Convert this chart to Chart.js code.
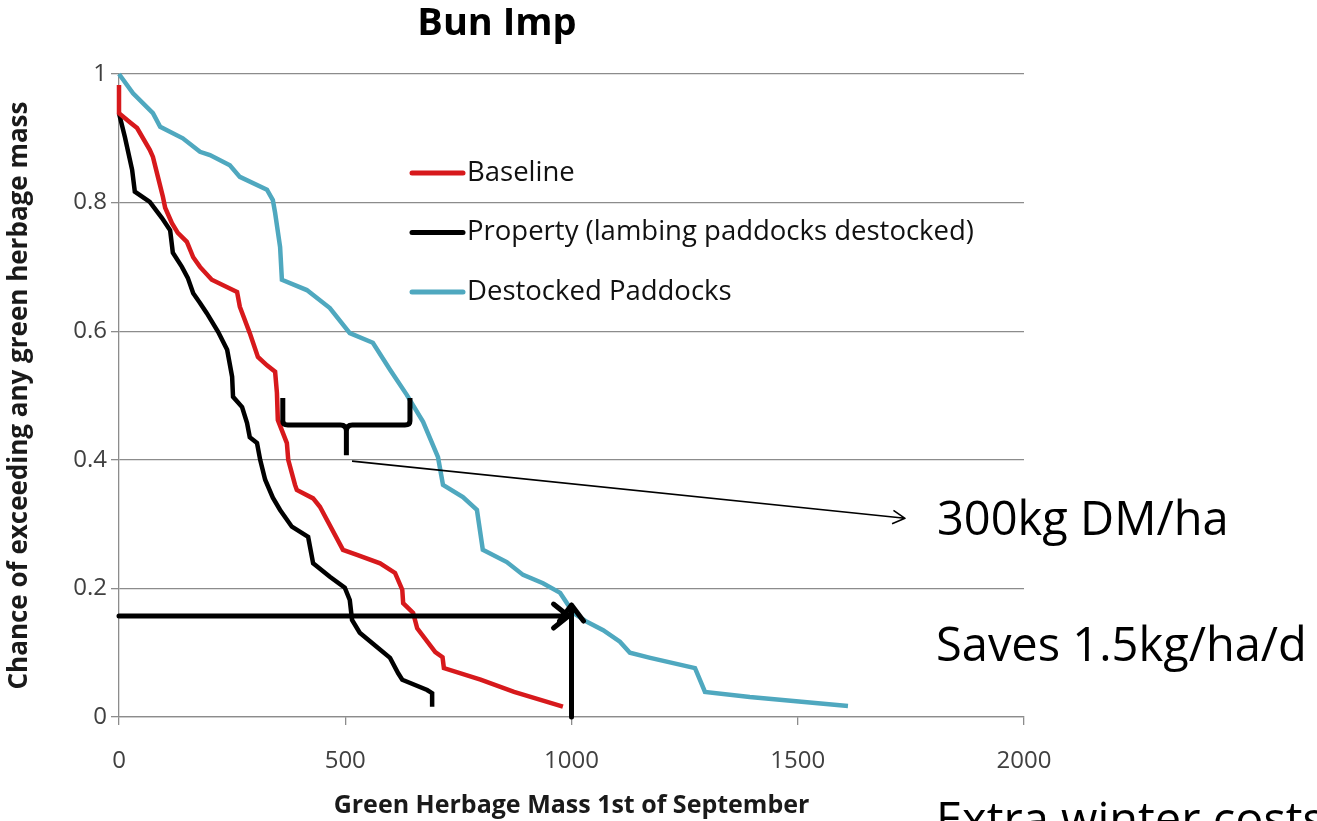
<!DOCTYPE html>
<html>
<head>
<meta charset="utf-8">
<script src="https://cdn.jsdelivr.net/npm/chart.js@4"></script>
<style>
  html, body { margin: 0; padding: 0; background: #fff; }
  #wrap { position: relative; width: 1317px; height: 821px; }
</style>
</head>
<body>
<div id="wrap"><canvas id="chart" width="1317" height="821"></canvas></div>
<script>
// values: [green herbage mass, chance of exceeding]
var baseline = [
  [0,0.983],[0,0.939],[24,0.925],[40,0.916],[68,0.882],[75,0.871],[86,0.840],[97,0.809],
  [102,0.792],[117,0.768],[130,0.753],[150,0.739],[164,0.715],[179,0.700],[205,0.680],
  [261,0.661],[267,0.638],[289,0.597],[307,0.560],[327,0.547],[345,0.537],[349,0.504],
  [351,0.462],[371,0.426],[374,0.400],[389,0.361],[393,0.353],[429,0.340],[444,0.327],
  [495,0.260],[526,0.252],[577,0.239],[610,0.224],[626,0.198],[628,0.177],[650,0.162],
  [659,0.138],[699,0.101],[715,0.093],[718,0.076],[799,0.058],[873,0.039],[981,0.016]
];
var property = [
  [0,0.939],[13,0.902],[29,0.851],[35,0.817],[68,0.801],[95,0.776],[113,0.757],[119,0.722],
  [139,0.700],[152,0.683],[164,0.659],[179,0.644],[194,0.628],[219,0.599],[239,0.571],
  [250,0.529],[252,0.498],[272,0.482],[283,0.457],[289,0.435],[305,0.426],[312,0.400],
  [323,0.369],[340,0.341],[356,0.322],[382,0.296],[418,0.280],[429,0.239],[466,0.218],
  [499,0.201],[510,0.182],[515,0.151],[532,0.131],[570,0.109],[599,0.092],[617,0.068],
  [626,0.058],[681,0.042],[692,0.037],[692,0.016]
];
var destocked = [
  [0,1.0],[31,0.970],[75,0.939],[91,0.918],[141,0.900],[179,0.879],[201,0.874],[245,0.858],
  [267,0.840],[327,0.820],[340,0.804],[345,0.784],[356,0.731],[360,0.680],[415,0.664],
  [466,0.636],[510,0.597],[561,0.582],[599,0.540],[636,0.501],[672,0.459],[705,0.404],
  [716,0.361],[760,0.342],[791,0.322],[804,0.260],[857,0.241],[893,0.221],[937,0.208],
  [975,0.193],[1004,0.162],[1034,0.148],[1070,0.135],[1107,0.117],[1129,0.100],[1174,0.092],
  [1273,0.076],[1295,0.039],[1394,0.031],[1611,0.017]
];
var seriesNames = ["Baseline", "Property (lambing paddocks destocked)", "Destocked Paddocks"];
var seriesColors = ["#d7191c", "#000000", "#4fa8bf"];

// annotation values (data units)
var braceX = [362, 643];
var braceY = [0.496, 0.454, 0.407];
var pointerFrom = [515, 0.398];
var pointerTo = [1737, 0.309];
var savedLevel = 0.157;
var savedMass = 1000;
var arrowTop = 0.174;
var notes = ["300kg DM/ha", "Saves 1.5kg/ha/d", "Extra winter costs"];

var FONT = "'Open Sans', sans-serif";

function toXY(arr) {
  return arr.map(function(p) { return {x: p[0], y: p[1]}; });
}

var annotate = {
  id: "annotate",
  afterDatasetsDraw: function(chart) {
    var ctx = chart.ctx;
    var xs = chart.scales.x, ys = chart.scales.y;
    var X = function(v) { return xs.getPixelForValue(v); };
    var Y = function(v) { return ys.getPixelForValue(v); };
    ctx.save();

    // title
    ctx.fillStyle = "#000";
    ctx.font = "bold 38px " + FONT;
    ctx.textAlign = "center";
    ctx.textBaseline = "middle";
    ctx.fillText("Bun Imp", 497, 24);

    // legend
    ctx.font = "27.5px " + FONT;
    ctx.textAlign = "left";
    for (var i = 0; i < seriesNames.length; i++) {
      var ly = 173 + i * 59.5;
      ctx.strokeStyle = seriesColors[i];
      ctx.lineWidth = 5;
      ctx.lineCap = "round";
      ctx.beginPath();
      ctx.moveTo(412, ly);
      ctx.lineTo(463, ly);
      ctx.stroke();
      ctx.fillStyle = "#111";
      ctx.fillText(seriesNames[i], 467, ly);
    }

    // brace
    ctx.strokeStyle = "#000";
    ctx.lineWidth = 5;
    ctx.lineCap = "butt";
    ctx.lineJoin = "round";
    var xm = (X(braceX[0]) + X(braceX[1])) / 2;
    ctx.beginPath();
    ctx.moveTo(X(braceX[0]), Y(braceY[0]));
    ctx.lineTo(X(braceX[0]), Y(braceY[1]) - 4);
    ctx.quadraticCurveTo(X(braceX[0]), Y(braceY[1]), X(braceX[0]) + 5, Y(braceY[1]));
    ctx.lineTo(xm - 6, Y(braceY[1]));
    ctx.quadraticCurveTo(xm, Y(braceY[1]), xm, Y(braceY[1]) + 6);
    ctx.lineTo(xm, Y(braceY[2]));
    ctx.moveTo(xm, Y(braceY[1]) + 6);
    ctx.quadraticCurveTo(xm, Y(braceY[1]), xm + 6, Y(braceY[1]));
    ctx.lineTo(X(braceX[1]) - 5, Y(braceY[1]));
    ctx.quadraticCurveTo(X(braceX[1]), Y(braceY[1]), X(braceX[1]), Y(braceY[1]) - 4);
    ctx.lineTo(X(braceX[1]), Y(braceY[0]));
    ctx.stroke();

    // thin pointer
    var px0 = X(pointerFrom[0]), py0 = Y(pointerFrom[1]);
    var px1 = X(pointerTo[0]), py1 = Y(pointerTo[1]);
    ctx.lineWidth = 1.6;
    ctx.beginPath();
    ctx.moveTo(px0, py0);
    ctx.lineTo(px1, py1);
    var ang = Math.atan2(py1 - py0, px1 - px0);
    ctx.moveTo(px1 - 14 * Math.cos(ang - 0.5), py1 - 14 * Math.sin(ang - 0.5));
    ctx.lineTo(px1, py1);
    ctx.lineTo(px1 - 14 * Math.cos(ang + 0.5), py1 - 14 * Math.sin(ang + 0.5));
    ctx.stroke();

    // thick arrows
    ctx.lineWidth = 5;
    ctx.lineCap = "round";
    var ax = X(savedMass), ay = Y(savedLevel);
    ctx.beginPath();
    ctx.moveTo(X(0), ay);
    ctx.lineTo(ax - 4, ay);
    ctx.moveTo(ax - 18, ay - 12);
    ctx.lineTo(ax - 3, ay);
    ctx.lineTo(ax - 18, ay + 12);
    ctx.stroke();
    ctx.beginPath();
    ctx.moveTo(ax, Y(0));
    ctx.lineTo(ax, Y(arrowTop));
    ctx.moveTo(ax - 12, Y(arrowTop) + 16);
    ctx.lineTo(ax, Y(arrowTop));
    ctx.lineTo(ax + 12, Y(arrowTop) + 16);
    ctx.stroke();

    // side notes
    ctx.fillStyle = "#000";
    ctx.font = "47px " + FONT;
    ctx.textAlign = "left";
    ctx.textBaseline = "alphabetic";
    ctx.fillText(notes[0], 937, 535);
    ctx.fillText(notes[1], 936, 661);
    ctx.fillText(notes[2], 936, 836);

    ctx.restore();
  }
};

var datasets = [baseline, property, destocked].map(function(d, i) {
  return {
    label: seriesNames[i],
    data: toXY(d),
    borderColor: seriesColors[i],
    backgroundColor: seriesColors[i],
    borderWidth: 4.5,
    pointRadius: 0,
    showLine: true,
    tension: 0,
    clip: false
  };
});

var ctx = document.getElementById("chart").getContext("2d");
new Chart(ctx, {
  type: "scatter",
  data: { datasets: datasets },
  options: {
    responsive: false,
    animation: false,
    layout: { padding: { top: 74, right: 293, left: 0, bottom: 0 } },
    plugins: { legend: { display: false }, tooltip: { enabled: false }, title: { display: false } },
    scales: {
      x: {
        min: 0, max: 2000,
        afterFit: function(s) { s.height = 104; },
        ticks: { stepSize: 500, color: "#404040", font: { family: FONT, size: 24 }, padding: 22, maxRotation: 0,
                 callback: function(v) { return String(v); } },
        grid: { drawOnChartArea: false, drawTicks: true, tickLength: 8, color: "#8c8c8c", lineWidth: 1.3 },
        border: { color: "#8c8c8c", width: 1.3 },
        title: { display: true, text: "Green Herbage Mass 1st of September", color: "#1a1a1a",
                 font: { family: FONT, size: 25, weight: "bold" }, padding: { top: 0, bottom: 0 } }
      },
      y: {
        min: 0, max: 1,
        afterFit: function(s) { s.width = 119; },
        ticks: { stepSize: 0.2, color: "#404040", font: { family: FONT, size: 24 }, padding: 4,
                 callback: function(v) { return String(Math.round(v * 10) / 10); } },
        grid: { color: "#8c8c8c", lineWidth: 1.3, tickLength: 8 },
        border: { color: "#8c8c8c", width: 1.3 },
        title: { display: true, text: "Chance of exceeding any green herbage mass", color: "#1a1a1a",
                 font: { family: FONT, size: 26, weight: "bold" }, padding: { top: 4, bottom: 0 } }
      }
    }
  },
  plugins: [annotate]
});
</script>
</body>
</html>
